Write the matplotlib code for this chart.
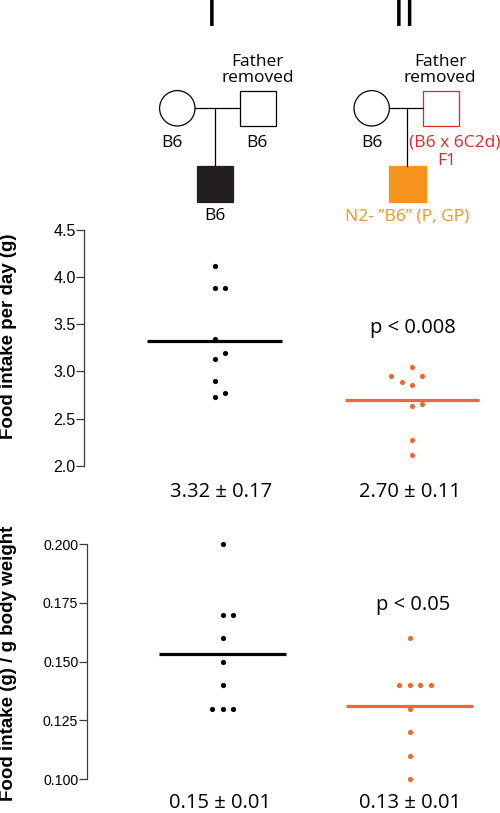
import matplotlib
matplotlib.use("Agg")
import matplotlib.pyplot as plt
from matplotlib.patches import Circle, Rectangle
import numpy as np

# ---------------- data ----------------
groups = ["I", "II"]
intake_I = [4.12, 3.88, 3.89, 3.34, 3.20, 3.13, 2.90, 2.77, 2.73]
intake_I_slot = [0, 0, 1, 0, 1, 0, 0, 1, 0]
intake_II = [3.05, 2.95, 2.95, 2.89, 2.855, 2.65, 2.63, 2.27, 2.11]
intake_II_slot = [0, -2, 1, -1, 0, 1, 0, 0, 0]
intake_means = [3.32, 2.70]
intake_text = ["3.32 ± 0.17", "2.70 ± 0.11"]
intake_p = "p < 0.008"
intake_ticks = [2.0, 2.5, 3.0, 3.5, 4.0, 4.5]

perbw_I = [0.200, 0.170, 0.170, 0.160, 0.150, 0.140, 0.130, 0.130, 0.130]
perbw_I_slot = [0, 0, 1, 0, 0, 0, -1, 0, 1]
perbw_II = [0.160, 0.140, 0.140, 0.140, 0.140, 0.130, 0.120, 0.110, 0.100]
perbw_II_slot = [0, -1, 0, 1, 2, 0, 0, 0, 0]
perbw_means = [0.1534, 0.131]
perbw_text = ["0.15 ± 0.01", "0.13 ± 0.01"]
perbw_p = "p < 0.05"
perbw_ticks = [0.100, 0.125, 0.150, 0.175, 0.200]

BLACK = "#000000"
ORANGE_DOT = "#ec6a2c"
ORANGE_SQ = "#f7941e"
RED = "#e3262b"

W, H = 500, 813
fig = plt.figure(figsize=(W / 100, H / 100), dpi=100)

ANN_FONT = ["Open Sans", "DejaVu Sans"]
AX_FONT = ["Liberation Sans", "DejaVu Sans"]


def box(x0, y_top, x1, y_bot):
    return [x0 / W, 1 - y_bot / H, (x1 - x0) / W, (y_bot - y_top) / H]


def make_axes(rect, ylim, ticks, fmt, xlim, tfs):
    ax = fig.add_axes(rect)
    ax.set_xlim(*xlim)
    ax.set_ylim(*ylim)
    for s in ["top", "right", "bottom"]:
        ax.spines[s].set_visible(False)
    ax.spines["left"].set_color("#3a3a3a")
    ax.spines["left"].set_linewidth(0.9)
    ax.set_xticks([])
    ax.set_yticks(ticks)
    ax.set_yticklabels([fmt.format(t) for t in ticks], family=AX_FONT, fontsize=tfs)
    ax.tick_params(axis="y", direction="out", length=5.5, width=0.9,
                   color="#3a3a3a", pad=0.5)
    ax.patch.set_alpha(0)
    return ax


def plot_group(ax, pos, vals, slots, slotw, color, mean, half):
    xs = [pos + s * slotw for s in slots]
    ax.scatter(xs, vals, s=14, color=color, zorder=3, linewidths=0, clip_on=False)
    ax.plot([pos - half, pos + half], [mean, mean], color=color, lw=2.3,
            solid_capstyle="butt", zorder=2, clip_on=False)


# ---------- top axes ----------
ax1 = make_axes(box(84, 230, 500, 465.7), (2.0, 4.5), intake_ticks, "{:.1f}",
                (0.3376, 2.446), 11.5)
plot_group(ax1, 1, intake_I, intake_I_slot, 0.053, BLACK, intake_means[0], 0.342)
plot_group(ax1, 2, intake_II, intake_II_slot, 0.053, ORANGE_DOT, intake_means[1], 0.340)

# ---------- bottom axes ----------
ax2 = make_axes(box(86.7, 544, 500, 779.3), (0.100, 0.200), perbw_ticks, "{:.3f}",
                (0.273, 2.483), 10.2)
plot_group(ax2, 1, perbw_I, perbw_I_slot, 0.056, BLACK, perbw_means[0], 0.34)
plot_group(ax2, 2, perbw_II, perbw_II_slot, 0.056, ORANGE_DOT, perbw_means[1], 0.34)

# ---------- overlay in pixel coords ----------
ov = fig.add_axes([0, 0, 1, 1])
ov.set_xlim(0, W)
ov.set_ylim(H, 0)
ov.axis("off")
ov.patch.set_alpha(0)

# axis labels
ov.text(9, 336.5, "Food intake per day (g)", rotation=90, ha="center", va="center",
        family=AX_FONT, fontsize=13.5, fontweight="bold")
ov.text(9, 663, "Food intake (g) / g body weight", rotation=90, ha="center",
        va="center", family=AX_FONT, fontsize=13.5, fontweight="bold")

# summary texts
SFS = 14.5
ov.text(220.7, 492, intake_text[0], ha="center", va="center", family=ANN_FONT, fontsize=SFS)
ov.text(410, 492, intake_text[1], ha="center", va="center", family=ANN_FONT, fontsize=SFS)
ov.text(413, 328, intake_p, ha="center", va="center", family=ANN_FONT, fontsize=SFS)
ov.text(220, 802.5, perbw_text[0], ha="center", va="center", family=ANN_FONT, fontsize=SFS)
ov.text(410, 802.5, perbw_text[1], ha="center", va="center", family=ANN_FONT, fontsize=SFS)
ov.text(413, 605, perbw_p, ha="center", va="center", family=ANN_FONT, fontsize=SFS)

# roman numerals (clipped at top, as in the original)
ov.text(212, 26, groups[0], ha="center", va="baseline", family=ANN_FONT, fontsize=30)
ov.text(405, 26, groups[1], ha="center", va="baseline", family=ANN_FONT, fontsize=30)

LW = 0.9
PFS = 12.5

# pedigree I
ov.add_patch(Circle((177.3, 108.3), 17.7, fc="white", ec="black", lw=LW))
ov.add_patch(Rectangle((240, 90.7), 36, 35.3, fc="white", ec="black", lw=LW))
ov.plot([195, 240], [108.3, 108.3], color="black", lw=LW)
ov.plot([215, 215], [108.3, 165.7], color="black", lw=LW)
ov.add_patch(Rectangle((197.3, 165.7), 36, 36, fc="#231f20", ec="#231f20", lw=LW))
ov.text(172, 142.7, "B6", ha="center", va="center", family=ANN_FONT, fontsize=PFS)
ov.text(257, 142.7, "B6", ha="center", va="center", family=ANN_FONT, fontsize=PFS)
ov.text(215.3, 216, "B6", ha="center", va="center", family=ANN_FONT, fontsize=PFS)
ov.text(257.7, 70, "Father\nremoved", ha="center", va="center", family=ANN_FONT,
        fontsize=PFS, linespacing=0.95)

# pedigree II
ov.add_patch(Circle((371.7, 108.3), 17.7, fc="white", ec="black", lw=LW))
ov.add_patch(Rectangle((423, 90.7), 35.7, 35.3, fc="white", ec=RED, lw=LW))
ov.plot([389.4, 423], [108.3, 108.3], color="black", lw=LW)
ov.plot([407.3, 407.3], [108.3, 165.7], color="black", lw=LW)
ov.add_patch(Rectangle((389.3, 165.7), 36.7, 36, fc=ORANGE_SQ, ec=ORANGE_SQ, lw=LW))
ov.text(371.7, 142.7, "B6", ha="center", va="center", family=ANN_FONT, fontsize=PFS)
ov.text(409, 142.7, "(B6 x 6C2d)", ha="left", va="center", family=ANN_FONT,
        fontsize=PFS, color=RED)
ov.text(446.7, 161, "F1", ha="center", va="center", family=ANN_FONT, fontsize=PFS, color=RED)
ov.text(407.3, 216, "N2- \u201dB6\u201d (P, GP)", ha="center", va="center",
        family=ANN_FONT, fontsize=PFS, color=ORANGE_SQ)
ov.text(440, 70, "Father\nremoved", ha="center", va="center", family=ANN_FONT,
        fontsize=PFS, linespacing=0.95)

fig.savefig("out.png", dpi=100)
